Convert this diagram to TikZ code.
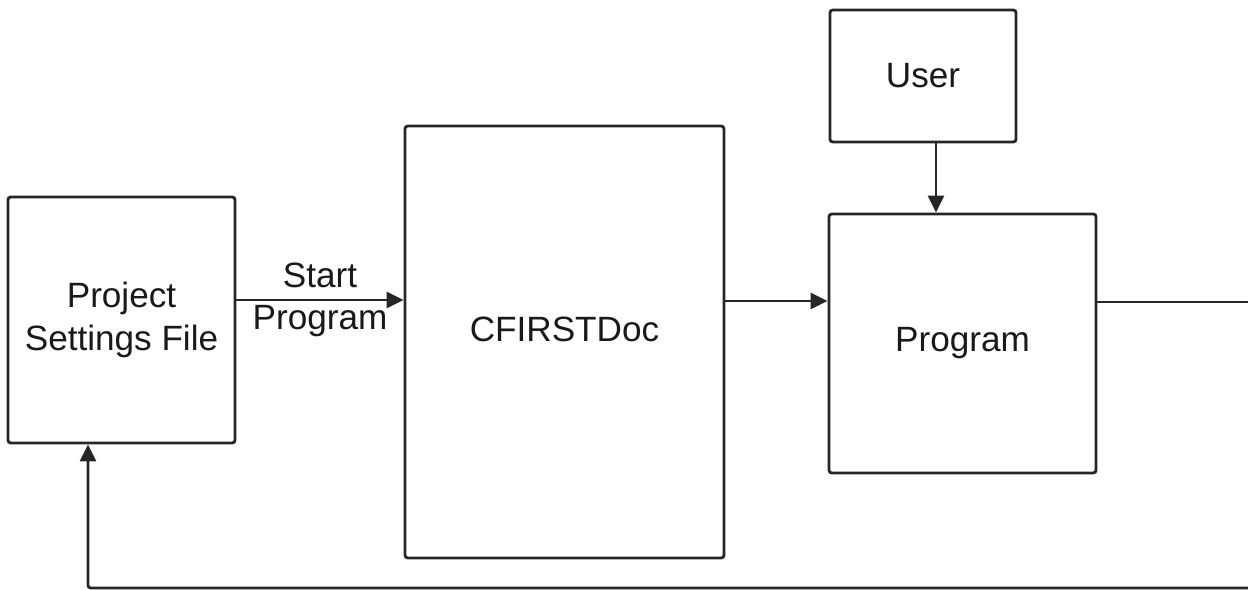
\documentclass[tikz,border=0pt]{standalone}
\usepackage{fontspec}
\setmainfont{Liberation Sans}
\usetikzlibrary{arrows.meta}
\tikzset{
  bloc/.style={draw=black!85,line width=1.6pt,rounded corners=1.5pt,inner sep=0pt,
    align=center,font=\fontsize{20}{24}\selectfont,text=black!90},
  fleche/.style={draw=black!85,line width=1.6pt,-{Triangle[length=0.34cm,width=0.32cm]}}
}
\begin{document}
\begin{tikzpicture}[x=0.02cm,y=-0.02cm]
        \useasboundingbox (0,0) rectangle (1248,590);
        % blocs
        \node[bloc,minimum width=4.54cm,minimum height=4.92cm] (psf) at (121.5,320) {Project\\Settings File};
        \node[bloc,minimum width=6.38cm,minimum height=8.64cm,
          label={[font=\fontsize{20}{24}\selectfont,text=black!90,yshift=0.26cm]center:CFIRSTDoc}] (doc) at (564.5,342) {};
        \node[bloc,minimum width=3.72cm,minimum height=2.64cm] (user) at (923,76) {User};
        \node[bloc,minimum width=5.34cm,minimum height=5.18cm] (prog) at (962.5,343.5) {Program};
        % arrows
        \draw[fleche] (psf.east |- 0,300) -- node[font=\fontsize{20}{24}\selectfont,text=black!90,align=center] {Start\\Program} (doc.west |- 0,300);
        \draw[fleche] (doc.east |- 0,301) -- (prog.west |- 0,301);
        \draw[fleche] (user.south -| 936,0) -- (prog.north -| 936,0);
        % feedback
        \draw[black!85,line width=1.6pt] (prog.east |- 0,302) -- (1248,302);
        \draw[fleche,rounded corners=1.5pt] (1248,588) -| (psf.south -| 88,0);
  \end{tikzpicture}
\end{document}
